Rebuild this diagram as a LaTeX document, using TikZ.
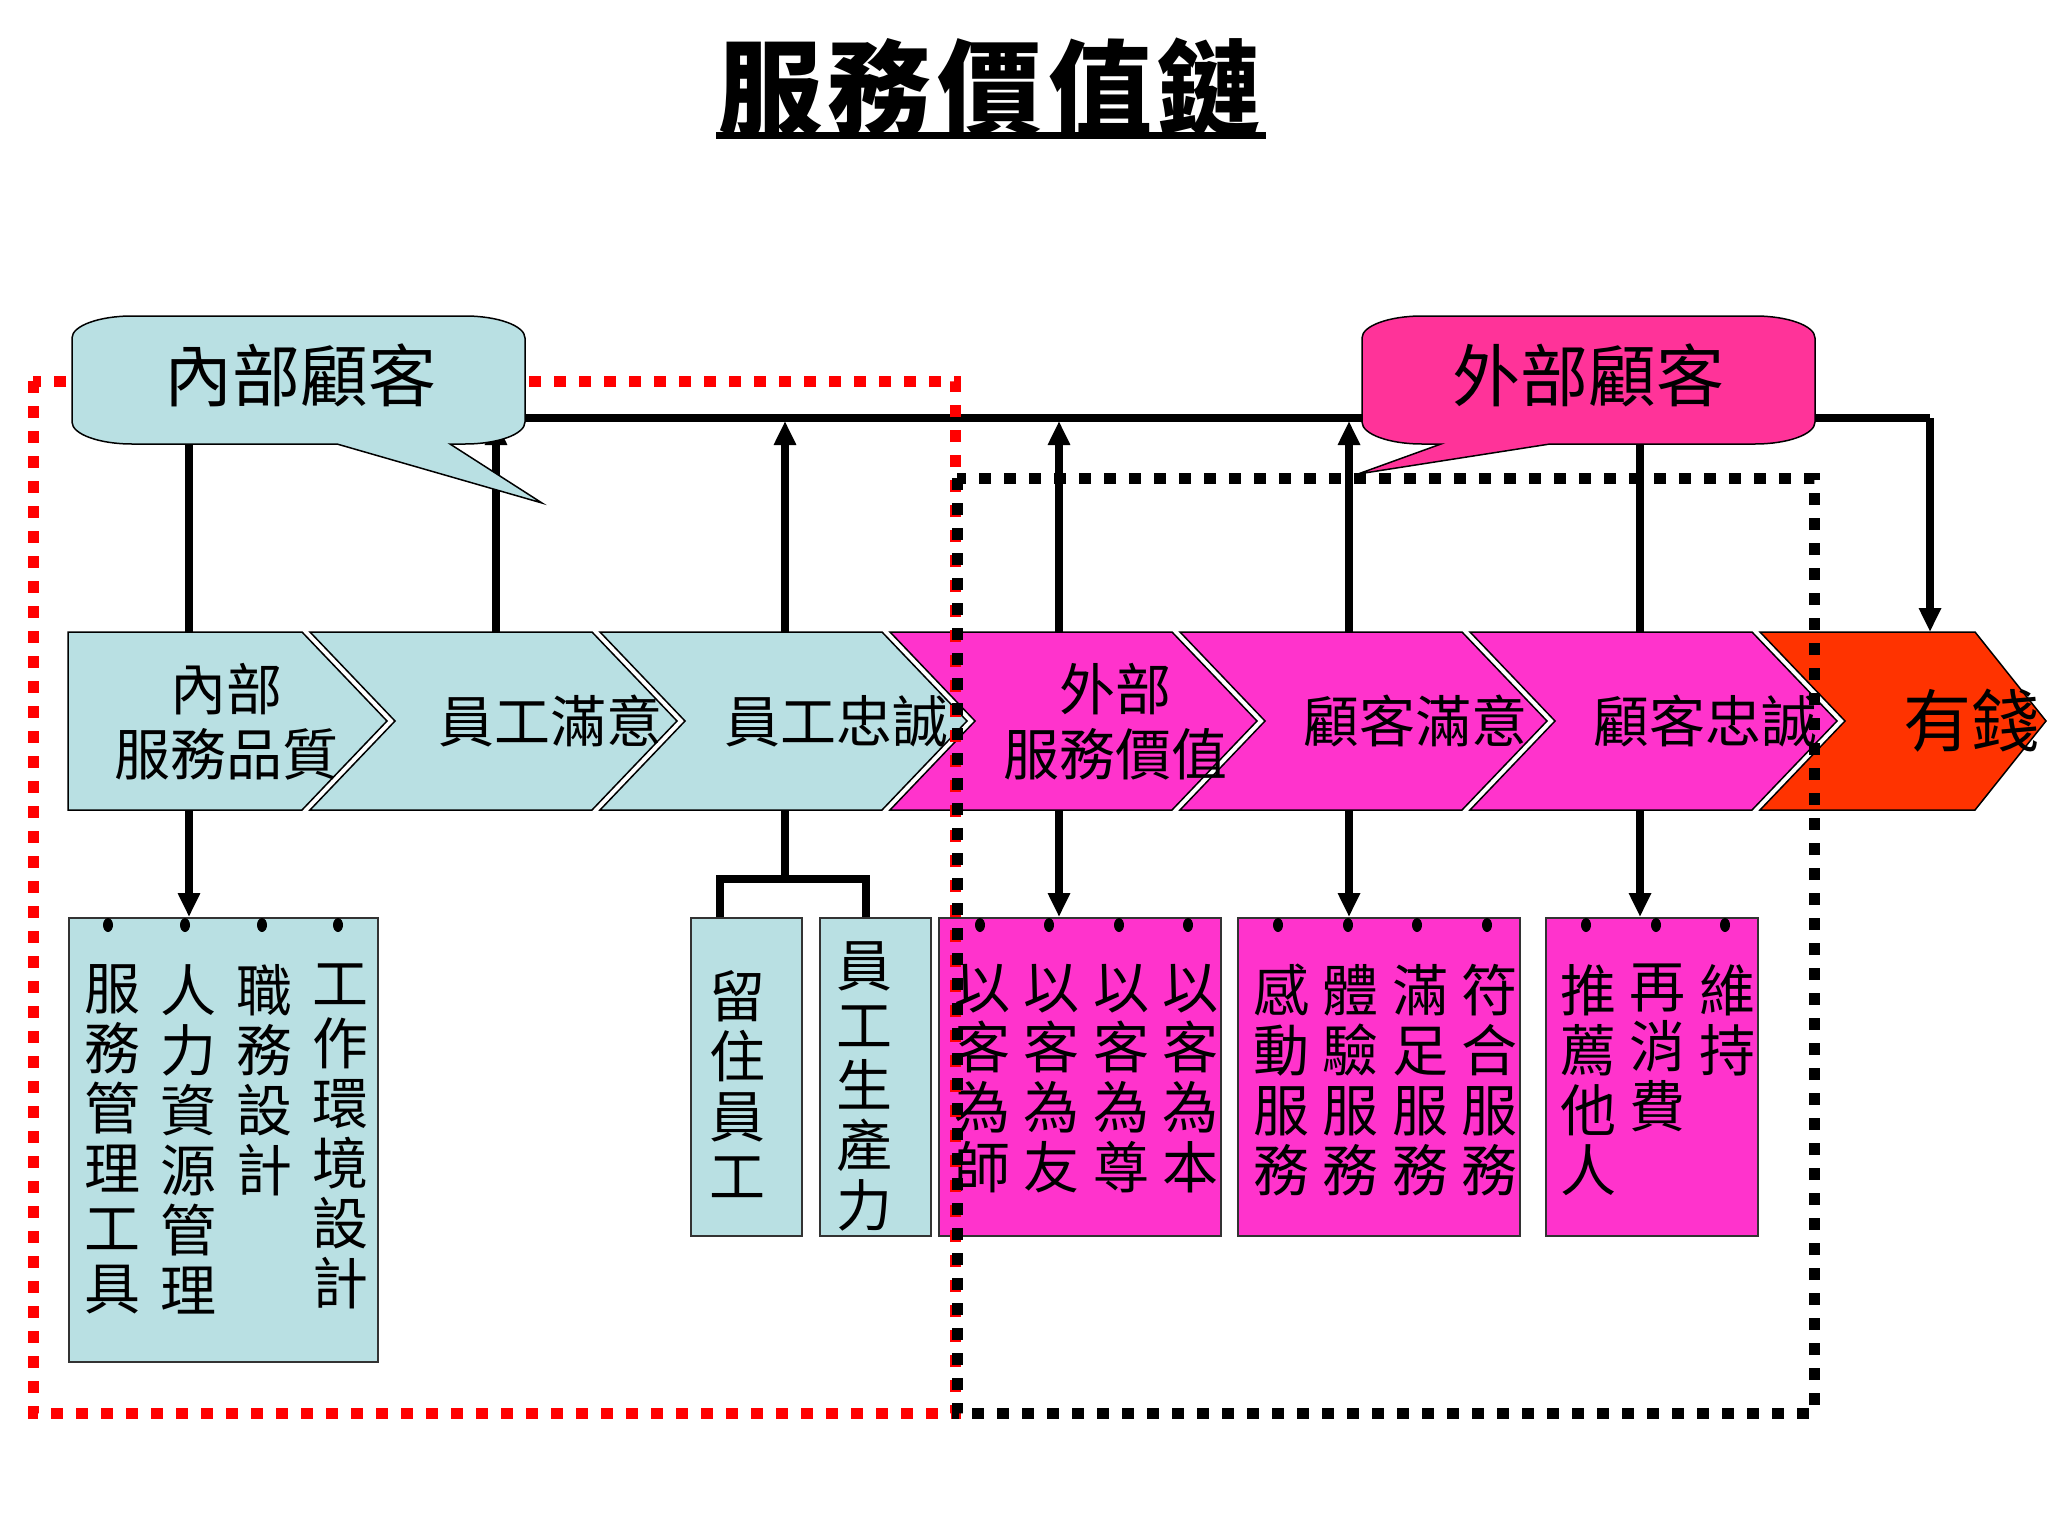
\documentclass[tikz,border=0pt]{standalone}
\usepackage{fontspec}
\newfontfamily\cjk{Noto Sans CJK TC}
\usetikzlibrary{positioning, arrows.meta, calc}
\definecolor{innerblue}{RGB}{185,224,227}
\definecolor{outerpink}{RGB}{255,51,204}
\definecolor{calloutpink}{RGB}{255,51,153}
\definecolor{moneyred}{RGB}{255,51,0}

\tikzset{
  conn/.style={line width=7.5pt, black},
  arrowto/.style={-{Triangle[length=24pt, width=21pt]}},
  chev/.style={draw=black, line width=1.5pt},
  chevtext/.style={font=\cjk\fontsize{56}{65}\selectfont, align=center, inner sep=0pt},
  listbox/.style={draw=black!80, line width=2pt, anchor=north west, inner sep=0pt},
  coltext/.style={font=\cjk\fontsize{56}{60}\selectfont, align=center, inner sep=0pt, anchor=north},
  callout/.style={draw=black, line width=1.5pt},
  reddots/.style={draw=red, line width=11pt, dash pattern=on 12pt off 13pt},
  blackdots/.style={draw=black, line width=11pt, dash pattern=on 12pt off 13pt},
}

\begin{document}
\begin{tikzpicture}[x=1pt, y=-1pt]
  \fill[white] (0,0) rectangle (2048,1536);
  \useasboundingbox (0,0) rectangle (2048,1536);

  % title
  \node[font=\cjk\bfseries\fontsize{104}{104}\selectfont, inner sep=0pt] (title) at (990,88)
    {服\hspace{6pt}務\hspace{6pt}價\hspace{6pt}值\hspace{6pt}鏈};
  \draw[line width=7pt] (716,136) -- (1266,136);

  % connector points
  \foreach \i/\x in {1/189,2/496,3/785,4/1059,5/1349,6/1640,7/1930} {
    \coordinate (t\i) at (\x,632);
    \coordinate (u\i) at (\x,810);
  }
  \coordinate (kinR) at (525,418);
  \coordinate (kinB) at (189,444);
  \coordinate (koutB) at (1640,444);
  \coordinate (turn) at (1930,418);
  \coordinate (brk) at (785,879);
  \coordinate (lg2) at (720,917);
  \coordinate (lg3) at (866,917);

  \draw[conn] (kinR) -- (turn);
  \draw[conn, arrowto] (turn) -- (t7);
  \draw[conn] (kinB) -- (t1);
  \draw[conn] (koutB) -- (t6);
  \foreach \i in {2,3,4,5}
    \draw[conn, arrowto, shorten >=3pt] (t\i) -- (t\i |- kinR);

  % chevrons
  \foreach \l/\s/\t/\d/\col in {68/302/387/0/innerblue, 310/592/677/85/innerblue,
      600/882/967/85/innerblue, 890/1172/1257/85/outerpink, 1180/1462/1547/85/outerpink,
      1470/1752/1837/85/outerpink, 1760/1975/2046/85/moneyred}
    \draw[chev, fill=\col] (\l,632) -- (\s,632) -- (\t,721) -- (\s,810) -- (\l,810) -- ({\l+\d},721) -- cycle;

  \node[chevtext] (q1) at (226,722) {內部\\服務品質};
  \node[chevtext] (q2) at (550,721) {員工滿意};
  \node[chevtext] (q3) at (836,721) {員工忠誠};
  \node[chevtext] (q4) at (1115,722) {外部\\服務價值};
  \node[chevtext] (q5) at (1415,721) {顧客滿意};
  \node[chevtext] (q6) at (1705,721) {顧客忠誠};
  \node[chevtext, font=\cjk\fontsize{68}{68}\selectfont] (q7) at (1971,721) {有錢};

  % boxes
  \node[listbox, fill=innerblue, minimum width=309pt, minimum height=444pt] (b1) at (68,917) {};
  \node[listbox, fill=innerblue, minimum width=111pt, minimum height=318pt] (b2) at (690,917) {};
  \node[listbox, fill=innerblue, minimum width=111pt, minimum height=318pt] (b3) at (819,917) {};
  \node[listbox, fill=outerpink, minimum width=282pt, minimum height=318pt] (b4) at (938,917) {};
  \node[listbox, fill=outerpink, minimum width=282pt, minimum height=318pt] (b5) at (1237,917) {};
  \node[listbox, fill=outerpink, minimum width=212pt, minimum height=318pt] (b6) at (1545,917) {};

  \draw[conn, arrowto] (u1) -- (u1 |- b1.north);
  \foreach \i/\b in {4/b4,5/b5,6/b6}
    \draw[conn, arrowto] (u\i) -- (u\i |- \b.north);
  \draw[conn] (u3) -- (brk);
  \draw[conn] (lg2) |- (brk) -| (lg3);

  \foreach \x in {108,185,262,338,980,1049,1119,1188,1278,1348,1417,1487,1586,1656,1725}
    \fill (\x,925) ellipse [x radius=5, y radius=7];

  \foreach \x/\txt [count=\i] in {112/{服\\務\\管\\理\\工\\具}, 188/{人\\力\\資\\源\\管\\理},
      264/{職\\務\\設\\計}, 340/{工\\作\\環\\境\\設\\計},
      982/{以\\客\\為\\師}, 1051/{以\\客\\為\\友}, 1121/{以\\客\\為\\尊}, 1190/{以\\客\\為\\本},
      1281/{感\\動\\服\\務}, 1350/{體\\驗\\服\\務}, 1420/{滿\\足\\服\\務}, 1489/{符\\合\\服\\務},
      1588/{推\\薦\\他\\人}, 1657/{再\\消\\費}, 1727/{維\\持}}
    \node[coltext] (col\i) at (\x,964) {\txt};
  \node[coltext] (keep) at (737,970) {留\\住\\員\\工};
  \node[coltext] (prod) at (864,941) {員\\工\\生\\產\\力};

  % dotted groups
  \draw[reddots] (33,381) rectangle (955,1413);
  \draw[blackdots] (957,478) rectangle (1814,1413);

  % callouts
  \draw[callout, fill=innerblue] (72,338) arc[start angle=180, end angle=270, x radius=60, y radius=22]
    -- (465,316) arc[start angle=270, end angle=360, x radius=60, y radius=22]
    -- (525,422) arc[start angle=0, end angle=90, x radius=60, y radius=22]
    -- (450,444) -- (542,503) -- (337,444)
    -- (132,444) arc[start angle=90, end angle=180, x radius=60, y radius=22] -- cycle;
  \node[font=\cjk\fontsize{68}{68}\selectfont] (kin) at (300,375) {內部顧客};

  \draw[callout, fill=calloutpink] (1362,338) arc[start angle=180, end angle=270, x radius=60, y radius=22]
    -- (1755,316) arc[start angle=270, end angle=360, x radius=60, y radius=22]
    -- (1815,422) arc[start angle=0, end angle=90, x radius=60, y radius=22]
    -- (1550,444) -- (1358,474) -- (1441,444)
    -- (1422,444) arc[start angle=90, end angle=180, x radius=60, y radius=22] -- cycle;
  \node[font=\cjk\fontsize{68}{68}\selectfont] (kout) at (1588,375) {外部顧客};
\end{tikzpicture}
\end{document}
